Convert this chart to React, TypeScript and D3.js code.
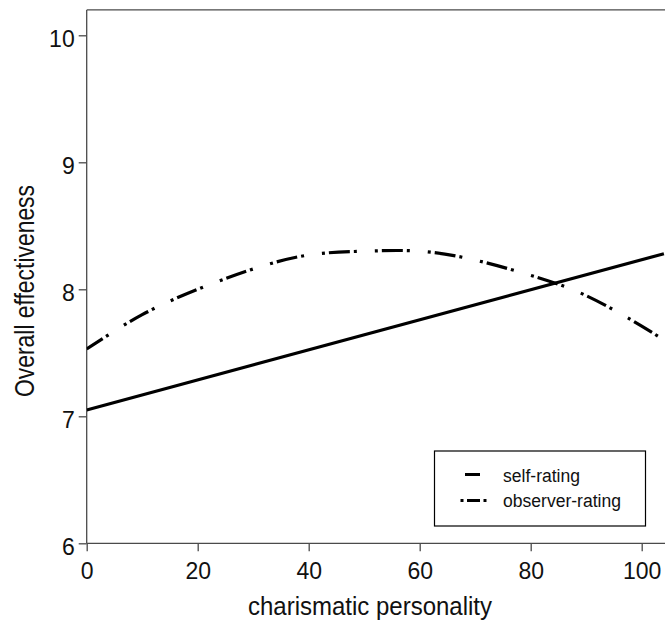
import React, { useEffect, useRef } from "react";
import * as d3 from "d3";

// values
const selfX = [0, 104];
const selfY = [7.05, 8.28];

const observerX = [0, 10, 20, 30, 40, 50, 60, 70, 80, 90, 100, 104];
const observerY = [7.53, 7.8, 8.0, 8.16, 8.27, 8.3, 8.3, 8.23, 8.11, 7.95, 7.71, 7.6];

const xTicks = [0, 20, 40, 60, 80, 100];
const yTicks = [6, 7, 8, 9, 10];

const legendLabels = ["self-rating", "observer-rating"];

const W = 665;
const H = 629;
const FONT = "'Liberation Sans', Arial, sans-serif";

const App = () => {
  const svgRef = useRef<SVGSVGElement>(null);

  useEffect(() => {
    const svg = d3.select(svgRef.current);
    svg.selectAll("*").remove();

    const x = d3.scaleLinear().domain([0, 100]).range([86.7, 641.7]);
    const y = d3.scaleLinear().domain([6, 10]).range([543.3, 35.3]);

    const axisColor = "#4a4a4a";

    // frame: top border runs off the right edge
    svg.append("line")
      .attr("x1", x(0)).attr("x2", W)
      .attr("y1", y(10.2)).attr("y2", y(10.2))
      .attr("stroke", axisColor).attr("stroke-width", 1.3);

    // clip for the curves
    svg.append("clipPath").attr("id", "plot-clip")
      .append("rect")
      .attr("x", x(0)).attr("y", y(10.2))
      .attr("width", W - x(0)).attr("height", y(6) - y(10.2));

    // Y axis
    const yAxis = d3.axisLeft(y).tickValues(yTicks).tickSize(8).tickPadding(4)
      .tickFormat(d3.format("d"));
    const gy = svg.append("g").attr("transform", `translate(${x(0)},0)`).call(yAxis);
    gy.select(".domain").remove();
    gy.append("line")
      .attr("x1", 0).attr("x2", 0)
      .attr("y1", y(10.2)).attr("y2", y(6))
      .attr("stroke", axisColor).attr("stroke-width", 1.3);
    gy.selectAll(".tick line").attr("stroke", axisColor).attr("stroke-width", 1.3);
    gy.selectAll(".tick text")
      .attr("dy", "0.5em")
      .attr("fill", "#111")
      .style("font-family", FONT)
      .style("font-size", "23px");

    // X axis
    const xAxis = d3.axisBottom(x).tickValues(xTicks).tickSize(8).tickPadding(11)
      .tickFormat(d3.format("d"));
    const gx = svg.append("g").attr("transform", `translate(0,${y(6)})`).call(xAxis);
    gx.select(".domain").remove();
    gx.append("line")
      .attr("x1", x(0)).attr("x2", W)
      .attr("y1", 0).attr("y2", 0)
      .attr("stroke", axisColor).attr("stroke-width", 1.3);
    gx.selectAll(".tick line").attr("stroke", axisColor).attr("stroke-width", 1.3);
    gx.selectAll(".tick text")
      .attr("fill", "#111")
      .style("font-family", FONT)
      .style("font-size", "23px");

    const plot = svg.append("g").attr("clip-path", "url(#plot-clip)");

    // self-rating: straight line
    const selfLine = d3.line<number>()
      .x((d) => x(d))
      .y((_, i) => y(selfY[i]));
    plot.append("path")
      .attr("d", selfLine(selfX))
      .attr("fill", "none")
      .attr("stroke", "#000")
      .attr("stroke-width", 3.2);

    // observer-rating: dash-dot curve
    const obsLine = d3.line<number>()
      .x((d) => x(d))
      .y((_, i) => y(observerY[i]))
      .curve(d3.curveNatural);
    plot.append("path")
      .attr("d", obsLine(observerX))
      .attr("fill", "none")
      .attr("stroke", "#000")
      .attr("stroke-width", 3.2)
      .attr("stroke-dasharray", "3,4,21,4,3,18")
      .attr("stroke-dashoffset", 9);

    // axis titles
    svg.append("text")
      .attr("x", 370).attr("y", 615)
      .attr("text-anchor", "middle")
      .attr("textLength", 244)
      .attr("lengthAdjust", "spacingAndGlyphs")
      .style("font-family", FONT)
      .style("font-size", "26px")
      .attr("fill", "#111")
      .text("charismatic personality");

    svg.append("text")
      .attr("transform", `translate(34,291) rotate(-90)`)
      .attr("text-anchor", "middle")
      .attr("textLength", 212)
      .attr("lengthAdjust", "spacingAndGlyphs")
      .style("font-family", FONT)
      .style("font-size", "27px")
      .attr("fill", "#111")
      .text("Overall effectiveness");

    // legend
    const lg = svg.append("g");
    lg.append("rect")
      .attr("x", 434.5).attr("y", 451)
      .attr("width", 211).attr("height", 75)
      .attr("fill", "#fff")
      .attr("stroke", "#000")
      .attr("stroke-width", 1.2);
    lg.append("line")
      .attr("x1", 465).attr("x2", 480)
      .attr("y1", 474.5).attr("y2", 474.5)
      .attr("stroke", "#000").attr("stroke-width", 3);
    lg.append("line")
      .attr("x1", 460.5).attr("x2", 486.5)
      .attr("y1", 500.5).attr("y2", 500.5)
      .attr("stroke", "#000").attr("stroke-width", 3)
      .attr("stroke-dasharray", "3,3.5,13,3.5,3");
    const lengths = [77, 118];
    legendLabels.forEach((label, i) => {
      lg.append("text")
        .attr("x", 503).attr("y", 481.5 + i * 25)
        .attr("textLength", lengths[i])
        .attr("lengthAdjust", "spacingAndGlyphs")
        .style("font-family", FONT)
        .style("font-size", "18px")
        .attr("fill", "#111")
        .text(label);
    });
  }, []);

  return (
    <svg
      ref={svgRef}
      width={W}
      height={H}
      style={{ position: "absolute", left: 0, top: 0, background: "#fff" }}
    />
  );
};

export default App;
